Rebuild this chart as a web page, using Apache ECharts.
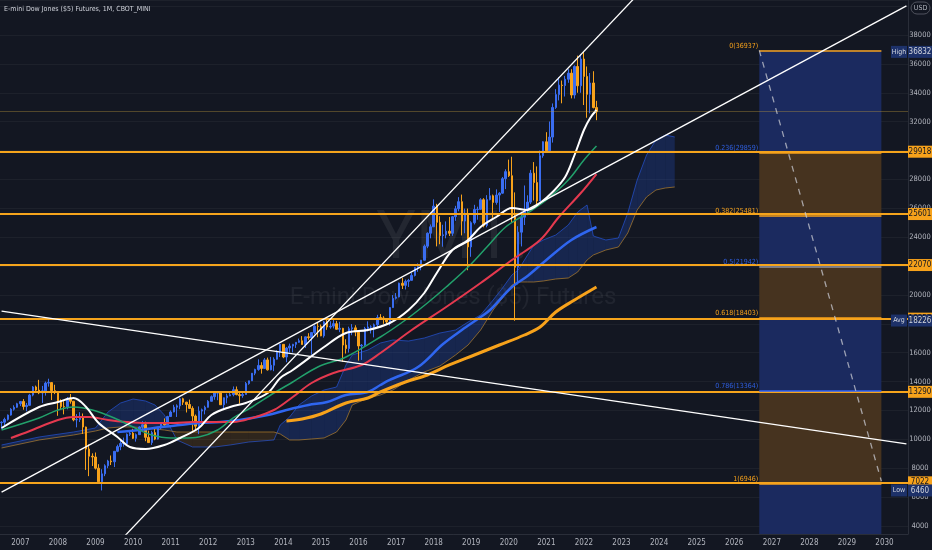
<!DOCTYPE html>
<html><head><meta charset="utf-8">
<script src="https://cdn.jsdelivr.net/npm/echarts@6/dist/echarts.min.js"></script>
<style>html,body{margin:0;padding:0;background:#131722;}#c{width:932px;height:550px;}</style>
</head><body><div id="c"></div>
<script>
// ---------- categories (monthly calendar) ----------
const startYear = 2006, startMonth = 7, monthCount = 290;
const months = [];
for (let i = 0; i < monthCount; i++) {
  const m = startMonth - 1 + i;
  const y = startYear + Math.floor(m / 12), mm = m % 12 + 1;
  months.push(y + '-' + (mm < 10 ? '0' : '') + mm);
}
// ---------- monthly candles from 2006-07: [open, high, low, close] ----------
const candles = [
[11150,11250,10700,11186],[11186,11500,10960,11381],[11381,11720,11300,11679],[11679,12160,11640,12081],[12081,12360,11990,12221],[12221,12530,12180,12463],
[12463,12650,12300,12622],[12622,12790,12050,12269],[12269,12520,11940,12354],[12354,13150,12340,13063],[13063,13690,12980,13628],[13628,13720,13230,13409],[13409,14120,13130,13212],[13212,13700,12520,13358],[13358,14000,13030,13896],[13896,14198,13650,13930],[13930,13960,12720,13372],[13372,13780,13130,13265],
[13265,13280,11630,12650],[12650,12770,12070,12266],[12266,12650,11730,12263],[12263,12930,12080,12820],[12820,13140,12470,12638],[12638,12660,11250,11350],[11350,11750,10830,11378],[11378,11880,11200,11544],[11544,11790,10370,10851],[10851,10880,7880,9325],[9325,9650,7450,8829],[8829,9030,8150,8776],
[8776,9090,7910,8001],[8001,8280,7050,7063],[7063,7930,6460,7609],[7609,8270,7450,8168],[8168,8580,8000,8500],[8500,8880,8220,8447],[8447,9190,8080,9172],[9172,9630,9110,9496],[9496,9920,9250,9712],[9712,10120,9490,9713],[9713,10410,9680,10345],[10345,10580,10230,10428],
[10428,10730,10020,10067],[10067,10410,9840,10325],[10325,10910,10300,10857],[10857,11260,10700,11009],[11009,11220,9870,10137],[10137,10600,9760,9774],[9774,10590,9610,10466],[10466,10720,9940,10015],[10015,10860,9990,10788],[10788,11200,10700,11118],[11118,11450,10930,11006],[11006,11630,10990,11578],
[11578,12000,11550,11892],[11892,12390,11870,12226],[12226,12420,11550,12320],[12320,12880,12090,12811],[12811,12880,12380,12570],[12570,12600,11860,12414],[12414,12750,12120,12143],[12143,12290,10600,11614],[11614,11720,10600,10913],[10913,12280,10360,11955],[11955,12130,11230,12046],[12046,12330,11730,12218],
[12218,12720,12200,12633],[12633,13040,12620,12952],[12952,13290,12740,13212],[13212,13340,12710,13214],[13214,13340,12390,12393],[12393,12900,12040,12880],[12880,13160,12490,13009],[13009,13330,12990,13091],[13091,13660,12980,13437],[13437,13660,13050,13096],[13096,13290,12470,13026],[13026,13280,12880,13104],
[13104,13970,13100,13861],[13861,14060,13780,14054],[14054,14590,14040,14579],[14579,14890,14440,14840],[14840,15540,14750,15116],[15116,15340,14550,14910],[14910,15630,14900,15500],[15500,15660,14760,14810],[14810,15710,14780,15130],[15130,15680,14720,15546],[15546,16170,15520,16086],[16086,16590,15700,16577],
[16577,16590,15620,15699],[15699,16400,15340,16322],[16322,16630,16020,16458],[16458,16610,16020,16581],[16581,16740,16330,16717],[16717,16980,16680,16827],[16827,17150,16560,16563],[16563,17120,16330,17098],[17098,17350,16900,17043],[17043,17400,15860,17391],[17391,17900,17280,17828],[17828,18100,17070,17823],
[17823,17950,17140,17165],[17165,18210,17040,18133],[18133,18290,17580,17776],[17776,18180,17660,17841],[17841,18350,17680,18011],[18011,18200,17590,17620],[17620,18140,17420,17690],[17690,17720,15370,16528],[16528,16930,15940,16285],[16285,17800,16010,17664],[17664,17980,17210,17720],[17720,17900,17140,17425],
[17425,17450,15450,16466],[16466,16600,15500,16517],[16517,17790,16400,17685],[17685,18170,17480,17774],[17774,17900,17330,17787],[17787,18020,17060,17930],[17930,18620,17710,18432],[18432,18670,18280,18401],[18401,18530,18000,18308],[18308,18400,17960,18142],[18142,19150,17880,19124],[19124,19990,19100,19763],
[19763,20130,19680,19864],[19864,20850,19830,20812],[20812,21170,20410,20663],[20663,21070,20380,20941],[20941,21110,20550,21009],[21009,21530,20990,21350],[21350,21930,21280,21891],[21891,22180,21600,21948],[21948,22420,21710,22405],[22405,23490,22400,23377],[23377,24330,23240,24272],[24272,24880,23920,24719],
[24719,26620,24700,26149],[26149,26310,23360,25029],[25029,25450,23510,24103],[24103,24860,23340,24163],[24163,25090,23920,24416],[24416,25400,24080,24271],[24271,25470,24090,25415],[25415,26170,25130,25965],[25965,26770,25790,26458],[26458,26950,24120,25116],[25116,25980,24270,25538],[25538,25980,21710,23327],
[23327,25100,22640,24999],[24999,26240,24880,25916],[25916,26110,25210,25929],[25929,26700,25900,26593],[26593,26700,24680,24815],[24815,26910,24680,26600],[26600,27400,26550,26864],[26864,26950,25340,26403],[26403,27310,26250,26917],[26917,27120,25740,27046],[27046,28170,27000,28051],[28051,28700,27330,28538],
[28538,29370,28170,28256],[28256,29570,25000,25409],[25409,27100,18213,21917],[21917,24760,20730,24346],[24346,25760,23360,25383],[25383,27580,24840,25813],[25813,26900,25520,26428],[26428,28660,26300,28430],[28430,29200,26540,27782],[27782,28900,26140,26502],[26502,30000,26500,29638],[29638,30640,29500,30606],
[30606,31270,29860,29983],[29983,32010,29950,30932],[30932,33260,30550,32982],[32982,34250,32880,33874],[33874,35090,33470,34529],[34529,34850,33270,34503],[34503,35170,33740,34935],[34935,35630,34690,35361],[35361,35630,33610,33844],[33844,35900,33600,35820],[35820,36570,34000,34484],[34484,36680,34000,36338],
[36338,36832,33150,35132],[35132,35820,32270,33893],[33893,35370,32580,34678],[34678,35490,32920,32977],[32977,33440,32100,32690]
];
// ---------- moving averages: [month, value] ----------
const maWhite = [['2006-07',10785],['2007-07',12239],['2008-01',12585],['2008-06',12862],['2008-10',12239],['2009-02',11131],['2009-08',10162],['2009-12',9469],['2010-05',9331],['2010-11',9608],['2011-04',10093],['2011-10',10785],['2012-02',11685],['2012-08',12239],['2013-01',12516],['2013-08',13209],['2013-12',14248],['2014-04',14801],['2015-02',16394],['2015-09',17364],['2016-04',17571],['2016-11',18056],['2017-05',18956],['2017-10',20134],['2018-02',21519],['2018-07',23111],['2018-12',23804],['2019-04',24704],['2019-09',25397],['2020-02',26020],['2020-07',25881],['2020-11',26366],['2021-03',27128],['2021-07',28167],['2021-10',29690],['2022-01',31421],['2022-03',32252],['2022-05',32806]];
const maGreen = [['2006-07',10646],['2007-07',11478],['2008-01',12031],['2008-06',12239],['2008-12',12031],['2009-07',11478],['2010-01',10854],['2010-07',10300],['2011-01',10093],['2011-05',10093],['2011-10',10162],['2012-04',10646],['2012-09',11478],['2013-03',12239],['2013-10',13209],['2014-04',13970],['2014-12',15009],['2015-09',15702],['2016-08',17087],['2017-04',18264],['2017-11',19441],['2018-05',20549],['2018-12',21934],['2019-06',23319],['2019-12',24704],['2020-07',25674],['2021-01',26574],['2021-08',27959],['2022-01',29344],['2022-05',30313]];
const maRed = [['2006-10',10093],['2007-04',10577],['2008-01',11339],['2008-06',11547],['2008-11',11547],['2009-05',11339],['2009-11',11200],['2010-05',11131],['2011-02',11131],['2011-08',11200],['2012-03',11200],['2012-09',11200],['2013-03',11478],['2013-10',12031],['2014-04',12932],['2014-10',13901],['2015-05',14594],['2016-02',15148],['2016-08',15979],['2017-06',17571],['2018-05',19164],['2019-04',20826],['2020-02',22419],['2020-11',23804],['2021-05',25397],['2021-12',27058],['2022-05',28374]];
const maBlue = [['2009-08',10508],['2010-03',10646],['2010-10',10854],['2011-04',10993],['2011-10',11131],['2012-05',11200],['2012-11',11339],['2013-08',11685],['2014-02',12031],['2014-09',12378],['2015-03',12585],['2015-09',13070],['2016-04',13278],['2016-08',13763],['2016-11',14109],['2017-08',15009],['2018-04',16600],['2018-10',17571],['2019-04',18472],['2019-07',18956],['2020-02',20549],['2020-07',21311],['2021-01',22419],['2021-09',23804],['2022-05',24704]];
const maOrange = [['2014-02',11270],['2014-07',11408],['2015-01',11755],['2015-09',12516],['2016-04',12862],['2016-08',13278],['2017-04',13970],['2017-11',14455],['2018-06',15148],['2019-02',15840],['2019-10',16533],['2020-06',17225],['2020-11',17779],['2021-04',18818],['2021-10',19649],['2022-05',20549]];
// ---------- cloud spans ----------
const cloudMonths = ['2006-07','2007-07','2008-06','2009-01','2009-05','2009-09','2010-01','2010-05','2010-08','2010-11','2011-01','2011-03','2011-08','2012-03','2012-08','2013-02','2013-10','2013-12','2014-03','2014-06','2014-10','2015-02','2015-06','2015-09','2015-11','2016-04','2016-08','2016-12','2017-05','2017-10','2018-03','2018-08','2018-12','2019-04','2019-08','2019-11','2020-02','2020-04','2020-07','2020-09','2020-12','2021-04','2021-08','2021-11','2022-02','2022-04','2022-08','2022-12','2023-03','2023-06','2023-09','2023-12','2024-03','2024-06'];
const cloudSpanA = [9608,10162,10508,10785,11893,12516,12793,12655,12378,11685,10785,9954,9469,9469,9608,9816,9954,10993,11547,12378,13001,13416,13624,15148,15840,16186,16671,16879,16810,17017,17364,17571,18125,18610,19649,20480,21380,21726,22765,23458,23804,24150,24843,25743,26228,24081,23804,23943,25674,27959,29690,30729,31075,30937];
const cloudSpanB = [9400,9954,10300,10577,10785,10854,10854,10785,10716,10646,10577,10508,10508,10508,10508,10508,10508,10370,9954,9954,10024,10093,10508,11339,12378,12862,13070,13416,14109,14663,15078,15840,16533,17571,18956,19788,20688,20896,20896,20896,20965,21103,21172,21588,22419,22765,23111,23319,24289,25881,26782,27266,27405,27474];
// ---------- drawings ----------
const trendSteep = [['2009-01',1170],['2024-01',42360]];
const trendRising = [['2006-07',6339],['2030-08',40015]];
const trendFalling = [['2006-07',18873],['2030-08',9691]];
const priceLevels = [29918, 25601, 22070, 18357, 13290, 7022];
const lastPrice = 32690;
const statNames = ['High', 'Avg', 'Low'];
const statValues = [36832, 18226, 6460];
const fibStart = '2026-09', fibEnd = '2029-12';
const fibRatios = ['0', '0.236', '0.382', '0.5', '0.618', '0.786', '1'];
const fibValues = [36937, 29859, 25481, 21942, 18403, 13364, 6946];
const projection = [['2026-09',36937],['2029-12',7100]];
const yMin = 3444, yMax = 40424;

const FONT = '"Liberation Sans Narrow","DejaVu Sans Condensed","Roboto Condensed",Roboto,sans-serif';
const ORANGE = '#f7a21b', UPC = '#3a6df0';
const fibTextColors = [ORANGE, '#2f5fe0', ORANGE, '#2f5fe0', ORANGE, '#2f5fe0', ORANGE];
const fibLineColors = [ORANGE, ORANGE, ORANGE, '#9598a1', ORANGE, '#2962ff', ORANGE];
const BOX_BLUE = '#1b2a5f', BOX_BROWN = '#46331f';

const chart = echarts.init(document.getElementById('c'));

function line(data, color, width, z, extra) {
  return Object.assign({ type: 'line', data: data, symbol: 'none', silent: true, z: z,
    lineStyle: { color: color, width: width }, animation: false }, extra || {});
}

// fib boxes: bands between consecutive levels, the last one to the axis bottom
const bandEdges = fibValues.concat([yMin]);
const boxAreas = [];
for (let k = 0; k < bandEdges.length - 1; k++) {
  boxAreas.push([{ coord: [fibStart, bandEdges[k]], itemStyle: { color: k % 2 === 0 ? BOX_BLUE : BOX_BROWN } },
                 { coord: [fibEnd, bandEdges[k + 1]] }]);
}

const CLOUD_BLUE = 'rgba(41,98,255,0.2)', CLOUD_BROWN = 'rgba(255,152,0,0.12)';
const cloudData = cloudMonths.map((m, k) => [months.indexOf(m), cloudSpanA[k], cloudSpanB[k]]);

const option = {
  backgroundColor: '#131722',
  animation: false,
  grid: { left: 0, right: 24, top: 0, bottom: 16, containLabel: false, outerBoundsMode: 'none' },
  xAxis: {
    type: 'category', data: months, boundaryGap: true,
    axisLine: { show: true, lineStyle: { color: '#2a2e39' } }, axisTick: { show: false },
    axisLabel: { interval: (i, v) => v.endsWith('-01'), formatter: v => v.slice(0, 4),
      color: '#b2b5be', fontSize: 8, fontFamily: FONT, margin: 5 },
    splitLine: { show: false }
  },
  yAxis: {
    type: 'value', position: 'right', min: yMin, max: yMax, splitNumber: 18,
    axisLine: { show: true, lineStyle: { color: '#2a2e39' } }, axisTick: { show: false },
    axisLabel: { color: '#b2b5be', fontSize: 7.5, fontFamily: FONT, margin: 12, align: 'center',
      showMinLabel: false, showMaxLabel: false, formatter: v => (v >= 40000 ? '' : String(v)) },
    splitLine: { lineStyle: { color: 'rgba(255,255,255,0.045)' } }
  },
  series: [
    // fib boxes
    { type: 'line', data: [], silent: true, z: 0,
      markArea: { silent: true, data: boxAreas } },
    // cloud fill
    { type: 'custom', data: cloudData, silent: true, z: 1, encode: { x: 0, y: 1 },
      renderItem: function (params, api) {
        const k = params.dataIndex;
        if (k >= cloudData.length - 1) return null;
        const x0 = cloudData[k][0], x1 = cloudData[k + 1][0];
        const a0 = api.coord([x0, cloudSpanA[k]]), b0 = api.coord([x0, cloudSpanB[k]]);
        const a1 = api.coord([x1, cloudSpanA[k + 1]]), b1 = api.coord([x1, cloudSpanB[k + 1]]);
        const d0 = cloudSpanA[k] - cloudSpanB[k], d1 = cloudSpanA[k + 1] - cloudSpanB[k + 1];
        const col = d => (d >= 0 ? CLOUD_BLUE : CLOUD_BROWN);
        if (d0 * d1 >= 0) return { type: 'polygon', shape: { points: [a0, a1, b1, b0] }, style: { fill: col(d0 + d1) } };
        const t = d0 / (d0 - d1);
        const px = [a0[0] + (a1[0] - a0[0]) * t, a0[1] + (a1[1] - a0[1]) * t];
        return { type: 'group', children: [
          { type: 'polygon', shape: { points: [a0, px, b0] }, style: { fill: col(d0) } },
          { type: 'polygon', shape: { points: [px, a1, b1] }, style: { fill: col(d1) } } ] };
      } },
    line(cloudMonths.map((m, k) => [m, cloudSpanA[k]]), 'rgba(41,98,255,0.55)', 1, 1),
    line(cloudMonths.map((m, k) => [m, cloudSpanB[k]]), 'rgba(190,135,45,0.65)', 1, 1),
    // candles
    { type: 'candlestick', data: candles.map(c => [c[0], c[3], c[2], c[1]]), barWidth: 2, z: 2, silent: true,
      itemStyle: { color: UPC, color0: ORANGE, borderColor: UPC, borderColor0: ORANGE, borderWidth: 1 } },
    // moving averages
    line(maOrange, '#f7a21b', 3, 3, { smooth: 0.35 }),
    line(maBlue, '#2f66f0', 2.5, 3, { smooth: 0.35 }),
    line(maRed, '#e5394f', 2, 3, { smooth: 0.35 }),
    line(maGreen, '#22a06b', 1.5, 3, { smooth: 0.35 }),
    line(maWhite, '#ffffff', 2, 3, { smooth: 0.35 }),
    // horizontal levels + last price
    { type: 'line', data: [], silent: true, z: 4,
      markLine: { silent: true, symbol: 'none', label: { show: false },
        data: priceLevels.map(v => ({ yAxis: v, lineStyle: { color: '#f5a41c', width: 2, type: 'solid' } }))
          .concat([{ yAxis: lastPrice, lineStyle: { color: 'rgba(200,160,60,0.35)', width: 1, type: 'solid' } }]) } },
    // fib lines inside box
    { type: 'line', data: [], silent: true, z: 5,
      markLine: { silent: true, symbol: 'none', label: { show: false },
        data: fibValues.map((v, k) => [{ coord: [fibStart, v], lineStyle: { color: fibLineColors[k], width: 1.5, type: 'solid' } },
                                     { coord: [fibEnd, v] }]) } },
    // trend lines
    line(trendSteep, '#ffffff', 1.3, 6),
    line(trendRising, '#ffffff', 1.3, 6),
    line(trendFalling, '#ffffff', 1.3, 6),
    line(projection, 'rgba(200,202,210,0.75)', 1.3, 6, { lineStyle: { color: 'rgba(200,202,210,0.75)', width: 1.3, type: [6, 6] } })
  ]
};
chart.setOption(option);

// ---------- labels placed through the chart's own scales ----------
const toY = v => chart.convertToPixel({ yAxisIndex: 0 }, v);
const toXY = (m, v) => chart.convertToPixel({ gridIndex: 0 }, [m, v]);
const plotRight = chart.getWidth() - 24;
const g = [];
// watermark + title
g.push({ type: 'text', x: 452, y: 241, z: 0, silent: true,
  style: { text: 'YM1!', fill: 'rgba(255,255,255,0.07)', font: '66px Roboto, sans-serif', textAlign: 'center', textVerticalAlign: 'middle' } });
g.push({ type: 'text', x: 453, y: 298, z: 0, silent: true,
  style: { text: 'E-mini Dow Jones ($5) Futures', fill: 'rgba(255,255,255,0.06)', font: '24px Roboto, sans-serif', textAlign: 'center', textVerticalAlign: 'middle' } });
g.push({ type: 'text', x: 4, y: 9, z: 50, silent: true,
  style: { text: 'E-mini Dow Jones ($5) Futures, 1M, CBOT_MINI', fill: '#d1d4dc', font: '7px ' + FONT, textVerticalAlign: 'middle' } });
// USD badge
g.push({ type: 'rect', shape: { x: plotRight + 3, y: 2, width: 19, height: 12, r: 6 }, z: 50, silent: true,
  style: { fill: '#131722', stroke: '#50535e', lineWidth: 1 } });
g.push({ type: 'text', x: plotRight + 12.5, y: 8, z: 51, silent: true,
  style: { text: 'USD', fill: '#b2b5be', font: '7px ' + FONT, textAlign: 'center', textVerticalAlign: 'middle' } });
// orange price tags
priceLevels.forEach(v => {
  const y = toY(v);
  g.push({ type: 'rect', shape: { x: plotRight, y: y - 6, width: 24, height: 12 }, z: 50, silent: true, style: { fill: ORANGE } });
  g.push({ type: 'text', x: plotRight + 12, y: y, z: 51, silent: true,
    style: { text: String(v), fill: '#131722', font: '8px ' + FONT, textAlign: 'center', textVerticalAlign: 'middle' } });
});
// High / Avg / Low tags
statNames.forEach((name, k) => {
  const y = toY(statValues[k]);
  g.push({ type: 'rect', shape: { x: plotRight - 17, y: y - 6, width: 16, height: 12 }, z: 50, silent: true, style: { fill: '#1d3169' } });
  g.push({ type: 'text', x: plotRight - 9, y: y, z: 51, silent: true,
    style: { text: name, fill: '#d1d4dc', font: '7px ' + FONT, textAlign: 'center', textVerticalAlign: 'middle' } });
  g.push({ type: 'rect', shape: { x: plotRight, y: y - 6, width: 24, height: 12 }, z: 50, silent: true, style: { fill: '#1d3169' } });
  g.push({ type: 'text', x: plotRight + 12, y: y, z: 51, silent: true,
    style: { text: String(statValues[k]), fill: '#d1d4dc', font: '8px ' + FONT, textAlign: 'center', textVerticalAlign: 'middle' } });
});
// fib labels
fibValues.forEach((v, k) => {
  const p = toXY(fibStart, v);
  g.push({ type: 'text', x: p[0] - 1, y: p[1] - 1, z: 40, silent: true,
    style: { text: fibRatios[k] + '(' + v + ')', fill: fibTextColors[k], font: '7px ' + FONT, textAlign: 'right', textVerticalAlign: 'bottom' } });
});
chart.setOption({ graphic: g });
</script>
</body></html>
